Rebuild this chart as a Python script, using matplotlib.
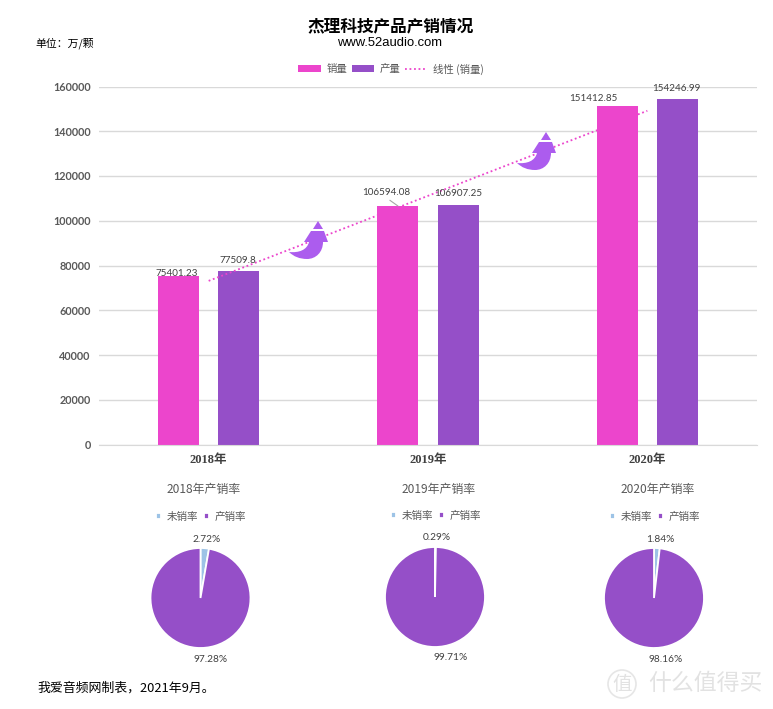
import matplotlib
matplotlib.use('Agg')
import matplotlib.pyplot as plt
import numpy as np
from matplotlib.patches import Circle, PathPatch
from matplotlib.path import Path
from matplotlib.transforms import Affine2D

W, H = 773, 709
CJK = ['Noto Sans CJK SC', 'DejaVu Sans']
plt.rcParams['font.family'] = CJK

years = ['2018年', '2019年', '2020年']
sales = [75401.23, 106594.08, 151412.85]
output = [77509.8, 106907.25, 154246.99]
sales_labels = ['75401.23', '106594.08', '151412.85']
output_labels = ['77509.8', '106907.25', '154246.99']
yticks = [0, 20000, 40000, 60000, 80000, 100000, 120000, 140000, 160000]

pie_titles = ['2018年产销率', '2019年产销率', '2020年产销率']
unsold = [2.72, 0.29, 1.84]
sold = [97.28, 99.71, 98.16]
pie_legend = ['未销率', '产销率']

PINK = '#EC45CC'
PURPLE = '#954FC8'
BLUE = '#9DC3E6'
GREY = '#595959'


def fx(px):
    return px / W


def fy(py):
    return 1 - py / H


def label(fig, px, py, text, size, color=GREY, **kw):
    fig.text(fx(px), fy(py), text, fontsize=size, color=color,
             ha=kw.pop('ha', 'center'), va='center', **kw)


def draw_arrow(fig, ox, oy):
    # curved "up" arrow, drawn in pixels from its top left corner
    verts = [
        (29, 0), (34, 8), (24, 8), (29, 0),
        (22, 10), (35, 10), (39, 21), (34, 21),
        (34, 31), (27, 38), (18, 38),
        (7, 38), (0, 31),
        (10, 32), (18, 29), (20, 21),
        (15, 21), (22, 10),
    ]
    codes = [
        Path.MOVETO, Path.LINETO, Path.LINETO, Path.CLOSEPOLY,
        Path.MOVETO, Path.LINETO, Path.LINETO, Path.LINETO,
        Path.CURVE4, Path.CURVE4, Path.CURVE4,
        Path.CURVE3, Path.CURVE3,
        Path.CURVE4, Path.CURVE4, Path.CURVE4,
        Path.LINETO, Path.CLOSEPOLY,
    ]
    tr = Affine2D().translate(ox, oy).scale(1, -1).translate(0, H)
    fig.add_artist(PathPatch(Path(verts, codes), facecolor='#AC5CEE', edgecolor='none',
                             transform=tr, zorder=5))


def draw_bars(fig):
    ax = fig.add_axes([fx(99), fy(444.5), fx(658), 358 / H])
    x = np.arange(len(years))
    b1 = ax.bar(x - 0.137, sales, 0.187, color=PINK, zorder=2)
    b2 = ax.bar(x + 0.137, output, 0.187, color=PURPLE, zorder=2)

    # linear trend of the sales series
    fit = np.polyfit(x, sales, 1)
    line, = ax.plot(x, np.polyval(fit, x), color=PINK, linestyle=(0, (1, 1.5)), linewidth=1.3, zorder=3)

    ax.set_xlim(-0.5, 2.5)
    ax.set_ylim(0, 160000)
    ax.set_yticks(yticks)
    ax.set_xticks(x)
    ax.set_xticklabels(years, family=['Liberation Serif', 'Noto Sans CJK SC'], fontweight='bold',
                       fontsize=9, color='#404040')
    ax.tick_params(axis='y', length=0, pad=6, labelcolor=GREY)
    ax.tick_params(axis='x', length=0, pad=7)
    for t in ax.get_yticklabels():
        t.set_family('Lato')
        t.set_fontweight('bold')
        t.set_fontsize(7.8)
    ax.grid(axis='y', color='#D9D9D9', linewidth=1)
    ax.set_axisbelow(True)
    for side in ['top', 'left', 'right']:
        ax.spines[side].set_visible(False)
    ax.spines['bottom'].set_color('#D9D9D9')

    # data labels were dragged around by hand in the original, offsets in pixels
    sales_off = [(-1.5, 2), (-12, 13), (-24, 7)]
    output_off = [(-0.5, 11), (0, 12), (-1, 11)]
    for i in range(3):
        arrow = None
        if i == 1:
            arrow = dict(arrowstyle='-', color='#A6A6A6', linewidth=0.8, shrinkA=0, shrinkB=0,
                         relpos=(0.5, 0))
        ax.annotate(sales_labels[i], (x[i] - 0.137, sales[i]),
                    xytext=(sales_off[i][0] * 0.72, sales_off[i][1] * 0.72),
                    textcoords='offset points', ha='center', va='center', fontsize=7.1,
                    family='Lato', color='#404040', arrowprops=arrow, zorder=6)
        ax.annotate(output_labels[i], (x[i] + 0.137, output[i]),
                    xytext=(output_off[i][0] * 0.72, output_off[i][1] * 0.72),
                    textcoords='offset points', ha='center', va='center', fontsize=7.1,
                    family='Lato', color='#404040', zorder=6)

    ax.legend([b1, b2, line], ['销量', '产量', '线性 (销量)'], loc='center',
              bbox_to_anchor=(fx(391), fy(69)), bbox_transform=fig.transFigure,
              ncol=3, frameon=False, fontsize=7.5, labelcolor=GREY, handlelength=2.2,
              handleheight=0.6, handletextpad=0.5, columnspacing=0.4, borderpad=0)
    return ax


def draw_pie(fig, i, cx, cy, r, tx, ty, ucx, ulab, slab, lx, ly):
    size = 2 * r
    ax = fig.add_axes([fx(cx - r), fy(cy + r), size / W, size / H])
    wedges, _ = ax.pie([unsold[i], sold[i]], colors=[BLUE, PURPLE], startangle=90, counterclock=False,
                       radius=1, wedgeprops=dict(edgecolor='white', linewidth=1.3))
    ax.set_xlim(-1, 1)
    ax.set_ylim(-1, 1)
    label(fig, tx, ty, pie_titles[i], 8.6)
    label(fig, ucx, ulab, f'{unsold[i]}%', 7.3, color='#404040', family='Lato')
    label(fig, slab[0], slab[1], f'{sold[i]}%', 7.3, color='#404040', family='Lato')
    ax.legend(wedges, pie_legend, loc='center', bbox_to_anchor=(fx(lx), fy(ly)),
              bbox_transform=fig.transFigure, ncol=2, frameon=False, fontsize=7.6, labelcolor=GREY,
              handlelength=0.5, handleheight=0.5, handletextpad=0.55, columnspacing=0.5, borderpad=0)


def main() -> None:
    fig = plt.figure(figsize=(W / 100, H / 100), dpi=100)

    label(fig, 391, 26, '杰理科技产品产销情况', 12, color='black', fontweight='bold')
    label(fig, 390, 43, 'www.52audio.com', 9.4, color='black', family='Liberation Sans')
    label(fig, 35, 43, '单位：万/颗', 7.8, color='black', ha='left')
    label(fig, 37, 688, '我爱音频网制表，2021年9月。', 9.3, color='black', ha='left')

    draw_bars(fig)
    draw_arrow(fig, 289, 221)
    draw_arrow(fig, 517, 132)

    draw_pie(fig, 0, 200.5, 598, 50, 204, 490, 207, 539, (211, 659), 201, 517)
    draw_pie(fig, 1, 435, 597, 50, 439, 489, 437, 538, (451, 658), 436, 516)
    draw_pie(fig, 2, 654, 598, 50, 658, 490, 660, 539, (666, 659), 655, 517)

    # site watermark, bottom right
    label(fig, 705, 683, '什么值得买', 16.5, color='#E2E2E2')
    label(fig, 622, 684, '值', 14, color='#E2E2E2')
    tr = Affine2D().scale(1, -1).translate(0, H)
    fig.add_artist(Circle((622, 684), 14, transform=tr, fill=False, edgecolor='#E6E6E6', linewidth=1.2))

    fig.savefig('out.png', dpi=100)


if __name__ == '__main__':
    main()
